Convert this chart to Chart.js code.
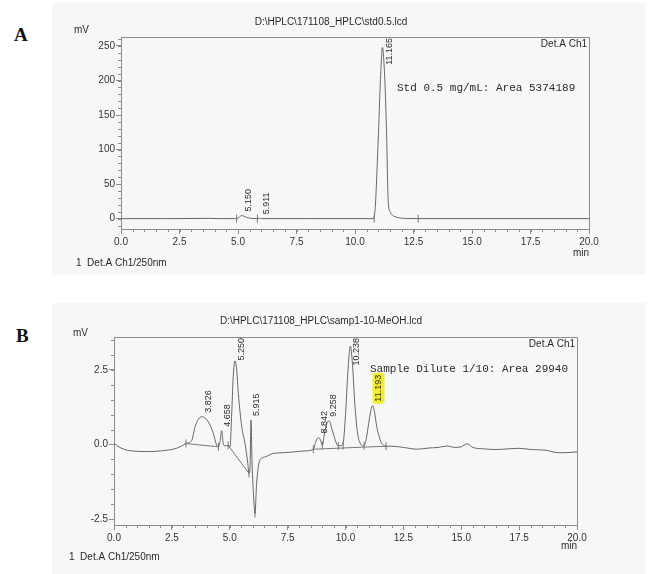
<!DOCTYPE html>
<html><head><meta charset="utf-8">
<script src="https://cdn.jsdelivr.net/npm/chart.js@4.4.0/dist/chart.umd.min.js"></script>
<style>
html,body{margin:0;padding:0;background:#fff;width:651px;height:574px;overflow:hidden;position:relative}
.scan{position:absolute;background:#f5f7f9}
canvas{position:absolute;left:0}
.lab{position:absolute;font-family:'Liberation Serif','DejaVu Serif',serif;font-weight:bold;font-size:19px;line-height:1;color:#111}
</style></head><body>
<div class="scan" style="left:52px;top:3px;width:594px;height:272px"></div>
<div class="scan" style="left:52px;top:303px;width:594px;height:271px"></div>
<div class="lab" style="left:14px;top:25px">A</div>
<div class="lab" style="left:16px;top:326px">B</div>
<canvas id="cA" width="651" height="280" style="top:0"></canvas>
<canvas id="cB" width="651" height="287" style="top:287px"></canvas>
<script>
// ---------- data ----------
const xTickValues = [0, 2.5, 5, 7.5, 10, 12.5, 15, 17.5, 20];
const xTickLabels = ['0.0', '2.5', '5.0', '7.5', '10.0', '12.5', '15.0', '17.5', '20.0'];
const yTickValuesA = [0, 50, 100, 150, 200, 250];
const yTickLabelsA = ['0', '50', '100', '150', '200', '250'];
const yTickValuesB = [-2.5, 0, 2.5];
const yTickLabelsB = ['-2.5', '0.0', '2.5'];

// Panel A: standard 0.5 mg/mL
const timeA = [0,2,3.8,4.2,4.9,5.0,5.08,5.15,5.25,5.4,5.6,5.8,5.911,6.0,8,10,10.6,10.8,10.85,10.88,10.94,11.0,11.05,11.11,11.17,11.25,11.31,11.35,11.42,11.5,11.6,11.71,11.9,12.2,12.7,15,20];
const signalA = [0,0,0.4,0,0,0.8,2.8,4.5,3.6,1.4,0.3,0,0.6,0,0,0,0,0,10,24,70,121,169,218,248,218,169,121,24.5,10,5,2.8,1,0.3,0,0,0];
const markerTimesA = [4.94, 5.83, 10.82, 12.7];
const markerValuesA = [0, 0, 0, 0];
const peakTimesA = [5.150, 5.911, 11.165];
const peakApexA = [4.5, 0.6, 248];
const peakLabelsA = ['5.150', '5.911', '11.165'];

// Panel B: sample dilute 1/10
const timeB = [0,0.3,0.6,1.0,1.5,2.0,2.4,2.7,2.9,3.11,3.36,3.5,3.64,3.81,4.07,4.29,4.43,4.51,4.58,4.65,4.72,4.8,4.93,5.01,5.08,5.15,5.23,5.3,5.37,5.52,5.66,5.78,5.83,5.87,5.92,5.96,6.02,6.09,6.16,6.3,6.52,6.88,7.3,7.8,8.2,8.61,8.72,8.83,8.92,9.0,9.1,9.2,9.3,9.4,9.5,9.6,9.69,9.8,9.9,10.0,10.1,10.21,10.3,10.4,10.5,10.6,10.8,10.9,11.0,11.1,11.17,11.25,11.35,11.5,11.6,11.75,12.0,12.5,13.1,13.6,14.0,14.4,14.7,15.0,15.25,15.5,16.0,16.5,17.0,17.5,18.0,18.7,19.0,19.4,20.0];
const signalB = [0.03,-0.12,-0.2,-0.23,-0.24,-0.22,-0.18,-0.13,-0.06,0.03,0.14,0.59,0.84,0.93,0.76,0.37,-0.02,-0.08,0.09,0.46,0.03,-0.05,-0.03,-0.08,0.93,2.27,2.8,2.5,1.71,0.59,0.03,-0.64,-0.97,-0.9,0.82,-0.5,-1.6,-2.32,-1.31,-0.53,-0.42,-0.3,-0.28,-0.25,-0.22,-0.16,0.1,0.23,0.15,-0.03,0.4,0.72,0.79,0.55,0.3,0.05,-0.05,-0.04,0.05,1.0,2.4,3.3,2.7,1.4,0.5,0.1,-0.05,0.2,0.7,1.15,1.3,1.1,0.6,0.15,0.0,-0.06,-0.06,-0.1,-0.16,-0.12,-0.1,-0.05,-0.1,-0.08,0.02,-0.1,-0.15,-0.17,-0.15,-0.13,-0.17,-0.2,-0.26,-0.28,-0.25];
const markerTimesB = [3.11, 4.51, 4.93, 5.83, 6.09, 8.61, 9.0, 9.69, 9.9, 10.8, 11.75];
const markerValuesB = [0.03, -0.08, -0.03, -0.97, -2.32, -0.16, -0.03, -0.05, -0.04, -0.05, -0.06];
const baselineTimesB = [[3.11, 4.51], [4.93, 5.83], [8.61, 11.75]];
const baselineValuesB = [[0.03, -0.08], [-0.03, -0.97], [-0.16, -0.06]];
const peakTimesB = [3.826, 4.658, 5.250, 5.915, 8.842, 9.258, 10.238, 11.193];
const peakApexB = [0.93, 0.46, 2.8, 0.82, 0.23, 0.79, 3.3, 1.3];
const peakLabelsB = ['3.826', '4.658', '5.250', '5.915', '8.842', '9.258', '10.238', '11.193'];
const highlightB = [false, false, false, false, false, false, false, true];

// ---------- helpers ----------
const SANS = "'Liberation Sans', Arial, sans-serif";
const MONO = "'Liberation Mono', 'Courier New', monospace";
const zip = (xs, ys) => xs.map((x, i) => ({x, y: ys[i]}));

const annot = {
  id: 'annot',
  afterDraw(chart, args, o) {
    const {ctx, chartArea: a, scales: {x, y}} = chart;
    ctx.save();
    ctx.strokeStyle = '#8c8c8c';
    ctx.lineWidth = 1;
    // top and right border of the box
    ctx.beginPath();
    ctx.moveTo(a.left, Math.round(a.top) + 0.5);
    ctx.lineTo(Math.round(a.right) + 0.5, Math.round(a.top) + 0.5);
    ctx.lineTo(Math.round(a.right) + 0.5, a.bottom);
    ctx.stroke();
    // minor ticks
    ctx.beginPath();
    for (let v = x.min; v <= x.max + 1e-9; v += o.xMinor) {
      const px = Math.round(x.getPixelForValue(v)) + 0.5;
      ctx.moveTo(px, a.bottom); ctx.lineTo(px, a.bottom + 3);
    }
    const y0 = Math.ceil(y.min / o.yMinor) * o.yMinor;
    for (let v = y0; v <= y.max + 1e-9; v += o.yMinor) {
      const py = Math.round(y.getPixelForValue(v)) + 0.5;
      ctx.moveTo(a.left, py); ctx.lineTo(a.left - 3, py);
    }
    ctx.stroke();

    // texts
    ctx.fillStyle = '#2a2a2a';
    ctx.textBaseline = 'middle';
    ctx.font = '10px ' + SANS;
    ctx.textAlign = 'center';
    ctx.fillText(o.title, o.titleX, o.titleY);
    ctx.textAlign = 'left';
    ctx.fillText('mV', o.mvX, o.mvY);
    ctx.fillText(o.foot, o.footX, o.footY);
    ctx.textAlign = 'right';
    ctx.fillText('Det.A Ch1', a.right - 2, a.top + 7);
    ctx.fillText('min', a.right, o.minY);
    ctx.textAlign = 'left';
    ctx.font = '11px ' + MONO;
    ctx.fillText(o.area, o.areaX, o.areaY);

    // peak labels (rotated)
    ctx.font = '9px ' + SANS;
    o.peakTimes.forEach((t, i) => {
      const txt = o.peakLabels[i];
      const w = ctx.measureText(txt).width;
      const px = x.getPixelForValue(t) + o.labOff;
      let py = y.getPixelForValue(o.peakApex[i]) - 4;
      if (py - w < a.top + 1) py = a.top + 1 + w;
      ctx.save();
      ctx.translate(px, py);
      ctx.rotate(-Math.PI / 2);
      if (o.highlight && o.highlight[i]) {
        ctx.fillStyle = '#f4ee2a';
        ctx.beginPath();
        if (ctx.roundRect) ctx.roundRect(-2, -6, w + 4, 12, 3); else ctx.rect(-2, -6, w + 4, 12);
        ctx.fill();
      }
      ctx.fillStyle = '#2a2a2a';
      ctx.textAlign = 'left';
      ctx.textBaseline = 'middle';
      ctx.fillText(txt, 0, 0);
      ctx.restore();
    });
    ctx.restore();
  }
};

function axisX() {
  return {
    type: 'linear', min: 0, max: 20,
    afterBuildTicks: s => { s.ticks = xTickValues.map(v => ({value: v})); },
    afterFit: s => { s.height = 30; },
    ticks: {callback: (v, i) => xTickLabels[i], font: {size: 10, family: SANS}, color: '#333', padding: 2, maxRotation: 0, autoSkip: false},
    grid: {drawOnChartArea: false, tickLength: 5, color: '#8c8c8c'},
    border: {color: '#8c8c8c'}
  };
}
function axisY(min, max, vals, labels) {
  return {
    type: 'linear', min, max,
    afterBuildTicks: s => { s.ticks = vals.map(v => ({value: v})); },
    afterFit: s => { s.width = 50; },
    ticks: {callback: (v, i) => labels[i], font: {size: 10, family: SANS}, color: '#333', padding: 1, autoSkip: false},
    grid: {drawOnChartArea: false, tickLength: 5, color: '#8c8c8c'},
    border: {color: '#8c8c8c'}
  };
}
const traceStyle = {borderColor: '#666', borderWidth: 1, pointRadius: 0, cubicInterpolationMode: 'monotone', fill: false};
const markerStyle = {showLine: false, pointStyle: 'line', rotation: 90, pointRadius: 4, borderColor: '#777', borderWidth: 1, backgroundColor: '#777'};

// ---------- chart A ----------
new Chart(document.getElementById('cA'), {
  type: 'line',
  data: {datasets: [
    Object.assign({data: zip(timeA, signalA)}, traceStyle),
    Object.assign({data: zip(markerTimesA, markerValuesA)}, markerStyle)
  ]},
  options: {
    responsive: false, animation: false,
    layout: {padding: {left: 71, right: 62, top: 37, bottom: 21}},
    scales: {x: axisX(), y: axisY(-15, 263, yTickValuesA, yTickLabelsA)},
    plugins: {
      legend: {display: false}, tooltip: {enabled: false},
      annot: {
        xMinor: 0.5, yMinor: 10,
        title: 'D:\\HPLC\\171108_HPLC\\std0.5.lcd', titleX: 331, titleY: 22,
        mvX: 74, mvY: 30,
        foot: '1  Det.A Ch1/250nm', footX: 76, footY: 263,
        minY: 253,
        area: 'Std 0.5 mg/mL: Area 5374189', areaX: 397, areaY: 88,
        peakTimes: peakTimesA, peakApex: peakApexA, peakLabels: peakLabelsA, labOff: 7
      }
    }
  },
  plugins: [annot]
});

// ---------- chart B ----------
const baselineSets = baselineTimesB.map((ts, k) => ({
  data: zip(ts, baselineValuesB[k]), borderColor: '#777', borderWidth: 1, pointRadius: 0, tension: 0
}));
new Chart(document.getElementById('cB'), {
  type: 'line',
  data: {datasets: [
    Object.assign({data: zip(timeB, signalB)}, traceStyle),
    ...baselineSets,
    Object.assign({data: zip(markerTimesB, markerValuesB)}, markerStyle)
  ]},
  options: {
    responsive: false, animation: false,
    layout: {padding: {left: 64, right: 74, top: 50, bottom: 19}},
    scales: {x: axisX(), y: axisY(-2.7, 3.6, yTickValuesB, yTickLabelsB)},
    plugins: {
      legend: {display: false}, tooltip: {enabled: false},
      annot: {
        xMinor: 0.5, yMinor: 0.5,
        title: 'D:\\HPLC\\171108_HPLC\\samp1-10-MeOH.lcd', titleX: 321, titleY: 34,
        mvX: 73, mvY: 46,
        foot: '1  Det.A Ch1/250nm', footX: 69, footY: 270,
        minY: 259,
        area: 'Sample Dilute 1/10: Area 29940', areaX: 370, areaY: 82,
        peakTimes: peakTimesB, peakApex: peakApexB, peakLabels: peakLabelsB, highlight: highlightB, labOff: 5.5
      }
    }
  },
  plugins: [annot]
});
</script>
</body></html>
